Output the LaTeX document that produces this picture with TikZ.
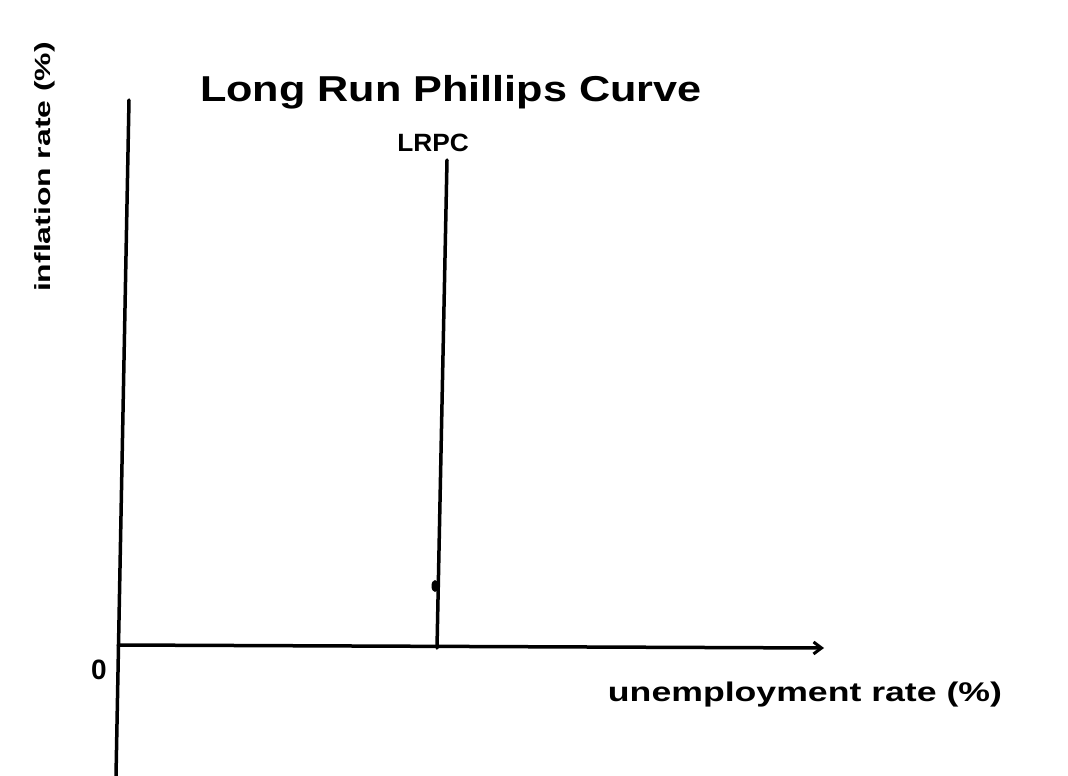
\documentclass[tikz,border=0pt]{standalone}
\usepackage{fontspec}
\setmainfont{Liberation Sans}
\usetikzlibrary{arrows.meta}
\begin{document}
\begin{tikzpicture}[x=1pt,y=-1pt,
  axis/.style={line width=3.5pt,black,line cap=round},
  lbl/.style={inner sep=0pt,text=black}]
\useasboundingbox[fill=white] (0,0) rectangle (1068,776);
% axes
\coordinate (ytop) at (129,100);
\coordinate (ybot) at (116,776);
\coordinate (origin) at (118,645);
\coordinate (xend) at (824,648);
\draw[axis] (ytop) -- (ybot);
\draw[axis,-{Straight Barb[length=8pt,width=12pt,line width=3pt]}] (origin) -- (xend);
% LRPC
\coordinate (ltop) at (447,160);
\coordinate (lbot) at (437,648);
\draw[axis] (ltop) -- (lbot);
\fill (435,586) ellipse (3.5pt and 6pt);
% labels
\node[lbl,font=\bfseries\fontsize{36}{40}\selectfont,xscale=1.2] (title) at (451,92) {Long Run Phillips Curve};
\node[lbl,font=\bfseries\fontsize{25}{28}\selectfont,xscale=1.05] (lrpc) at (433,143) {LRPC};
\node[lbl,font=\bfseries\fontsize{28}{30}\selectfont] (zero) at (99,670) {0};
\node[lbl,font=\bfseries\fontsize{27}{29}\selectfont,xscale=1.32] (xlabel) at (805,695) {unemployment rate (\%)};
\node[lbl,font=\bfseries\fontsize{22}{24}\selectfont,rotate=90,xscale=1.45] (ylabel) at (45,167) {inflation rate (\%)};
\end{tikzpicture}
\end{document}
